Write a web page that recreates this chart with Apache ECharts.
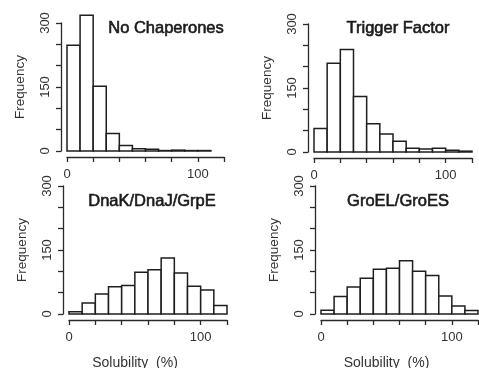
<!DOCTYPE html>
<html>
<head>
<meta charset="utf-8">
<script src="https://cdn.jsdelivr.net/npm/echarts@6/dist/echarts.min.js"></script>
<style>
  html, body { margin: 0; padding: 0; background: #fff; }
  #chart { width: 479px; height: 368px; }
</style>
</head>
<body>
<div id="chart"></div>
<script>
// histogram counts per 10% solubility bin, starting at 0
const binWidth = 10;
const noChaperones = [248, 318, 152, 41, 13, 5, 4, 1, 2, 1, 1];
const triggerFactor = [55, 208, 240, 130, 66, 42, 25, 9, 7, 9, 4, 2];
const dnaKJE = [5, 26, 47, 64, 67, 98, 104, 131, 96, 65, 56, 20];
const groELES = [9, 41, 63, 84, 105, 107, 125, 100, 90, 42, 19, 8];

const panelTitles = ['No Chaperones', 'Trigger Factor', 'DnaK/DnaJ/GrpE', 'GroEL/GroES'];
const yTickLabels = [0, 150, 300];
const xTickLabels = [0, 100];

const panels = [noChaperones, triggerFactor, dnaKJE, groELES];
const grids = [
  { left: 67, top: 23, width: 157, height: 128 },
  { left: 314, top: 24, width: 158, height: 128 },
  { left: 69, top: 186, width: 158, height: 128 },
  { left: 321, top: 186, width: 157, height: 128 }
].map(g => ({ ...g, outerBoundsMode: 'none' }));
const titlePos = [[166, 19.5], [398, 19.5], [152, 193], [398, 193]];

const font = '"Liberation Sans", Arial, Helvetica, sans-serif';
const ink = '#2a2a2a';

const chart = echarts.init(document.getElementById('chart'));

const option = {
  animation: false,
  backgroundColor: '#fff',
  textStyle: { fontFamily: font },
  title: panelTitles.map((t, i) => ({
    text: t,
    left: titlePos[i][0],
    top: titlePos[i][1],
    padding: 0,
    textAlign: 'center',
    textStyle: {
      fontFamily: font, fontSize: 16.5, fontWeight: 'normal', color: '#1a1a1a',
      textBorderColor: '#1a1a1a', textBorderWidth: 0.6
    }
  })),
  grid: grids,
  xAxis: grids.map((g, i) => ({
    gridIndex: i,
    type: 'value',
    min: 0,
    max: 120,
    interval: 20,
    offset: 6,
    name: i >= 2 ? 'Solubility  (%)' : '',
    nameLocation: 'middle',
    nameGap: 36,
    nameTextStyle: { fontFamily: font, fontSize: 14, color: '#333', padding: [0, 26, 0, 0] },
    axisLine: { show: true, onZero: false, lineStyle: { color: ink, width: 1.3 } },
    axisTick: { show: true, length: 5, lineStyle: { color: ink, width: 1.3 } },
    axisLabel: {
      margin: 11,
      fontSize: 13,
      color: '#333',
      formatter: v => (xTickLabels.includes(v) ? String(v) : '')
    },
    splitLine: { show: false }
  })),
  yAxis: grids.map((g, i) => ({
    gridIndex: i,
    type: 'value',
    min: 0,
    max: 300,
    interval: 50,
    offset: 6,
    name: 'Frequency',
    nameLocation: 'middle',
    nameRotate: 90,
    nameGap: 34,
    nameTextStyle: { fontFamily: font, fontSize: 13.5, color: '#333' },
    axisLine: { show: true, onZero: false, lineStyle: { color: ink, width: 1.3 } },
    axisTick: { show: true, length: 5, lineStyle: { color: ink, width: 1.3 } },
    axisLabel: {
      rotate: 90,
      margin: 9,
      fontSize: 13,
      color: '#333',
      formatter: v => (yTickLabels.includes(v) ? String(v) : '')
    },
    splitLine: { show: false }
  })),
  series: panels.map((counts, i) => ({
    type: 'custom',
    xAxisIndex: i,
    yAxisIndex: i,
    data: counts.map((c, k) => [k * binWidth, (k + 1) * binWidth, c]),
    renderItem: (params, api) => {
      const p0 = api.coord([api.value(0), 0]);
      const p1 = api.coord([api.value(1), api.value(2)]);
      return {
        type: 'rect',
        shape: { x: p0[0], y: p1[1], width: p1[0] - p0[0], height: p0[1] - p1[1] },
        style: { fill: '#fff', stroke: '#1e1e1e', lineWidth: 1.5 }
      };
    }
  }))
};

chart.setOption(option);
</script>
</body>
</html>
